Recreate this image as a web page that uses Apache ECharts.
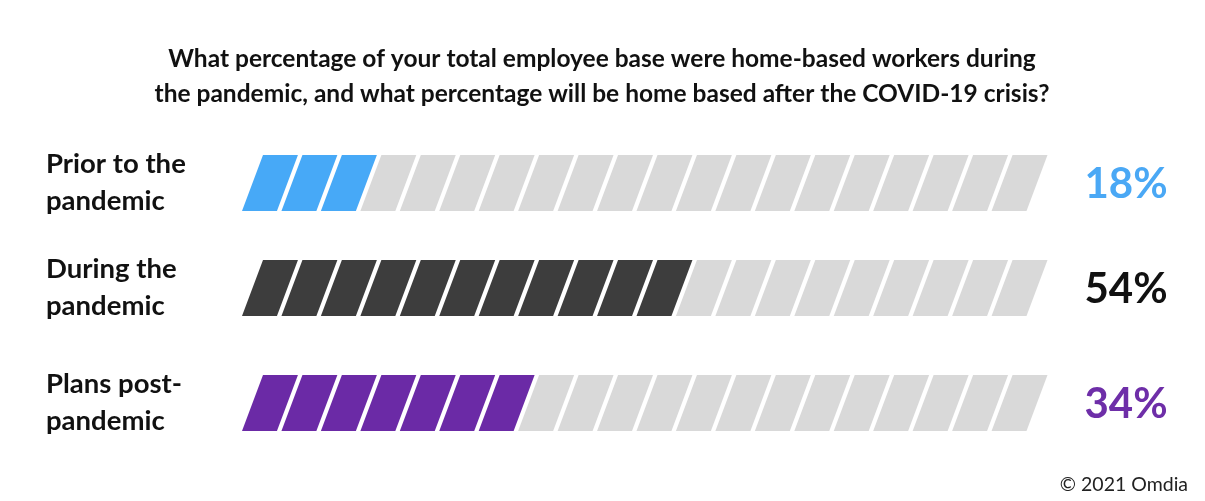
<!DOCTYPE html>
<html>
<head>
<meta charset="utf-8">
<script src="https://cdn.jsdelivr.net/npm/echarts@6/dist/echarts.min.js"></script>
<style>
html,body{margin:0;padding:0;background:#fff;}
#chart{width:1205px;height:501px;}
</style>
</head>
<body>
<div id="chart"></div>
<script>
// ---- data ----
const titleText = 'What percentage of your total employee base were home-based workers during\nthe pandemic, and what percentage will be home based after the COVID-19 crisis?';
const categories = ['Prior to the\npandemic', 'During the\npandemic', 'Plans post-\npandemic'];
const values = [18, 54, 34];              // percentage labels
const filledSegments = [3, 11, 7];        // coloured segments counted in the picture
const totalSegments = 20;                 // segments per row
const fillColors = ['#47A9F7', '#3D3D3D', '#6B2AA6'];
const labelColors = ['#4AA8F5', '#111111', '#6E2EA8'];
const emptyColor = '#D9D9D9';
const footer = '\u00A9 2021 Omdia';

// ---- layout ----
const FONT = 'Lato';
const rowTops = [155, 260, 375];
const rowH = 56;
const gridLeft = 242;
const gridWidth = 789;
const slant = 21;
const gap = 4.5;

const grids = [], xAxes = [], yAxes = [], series = [];
rowTops.forEach(function (top, r) {
  grids.push({ left: gridLeft, top: top, width: gridWidth, height: rowH });
  xAxes.push({ gridIndex: r, type: 'value', min: 0, max: totalSegments, show: false });
  yAxes.push({
    gridIndex: r, type: 'category', data: [categories[r]],
    axisLine: { show: false }, axisTick: { show: false }, splitLine: { show: false },
    axisLabel: {
      align: 'left', margin: gridLeft - 46, fontFamily: FONT, fontWeight: 'bold',
      fontSize: 27.5, lineHeight: 37, color: '#111', padding: [6, 0, 0, 0]
    }
  });
  const segData = [];
  for (let i = 0; i < totalSegments; i++) {
    segData.push([i, categories[r], i < filledSegments[r] ? 1 : 0]);
  }
  series.push({
    type: 'custom', xAxisIndex: r, yAxisIndex: r, data: segData,
    renderItem: function (params, api) {
      const i = api.value(0);
      const p0 = api.coord([i, 0]);
      const p1 = api.coord([i + 1, 0]);
      const h = api.size([0, 1])[1];
      const yb = p0[1] + h / 2, yt = p0[1] - h / 2;
      const x0 = p0[0], x1 = p1[0] - gap;
      return {
        type: 'polygon',
        shape: { points: [[x0, yb], [x1, yb], [x1 + slant, yt], [x0 + slant, yt]] },
        style: { fill: api.value(2) ? fillColors[r] : emptyColor }
      };
    },
    silent: true
  });
  series.push({
    type: 'custom', xAxisIndex: r, yAxisIndex: r, data: [[totalSegments, categories[r], values[r]]],
    renderItem: function (params, api) {
      const p = api.coord([totalSegments, 0]);
      return {
        type: 'text',
        style: {
          x: 1126, y: p[1] + 1, text: api.value(2) + '%', fill: labelColors[r],
          font: 'bold 42px ' + FONT, align: 'center', verticalAlign: 'middle'
        }
      };
    },
    silent: true
  });
});

const chart = echarts.init(document.getElementById('chart'), null, { renderer: 'canvas' });
chart.setOption({
  backgroundColor: '#fff',
  animation: false,
  title: {
    text: titleText, left: 597, textAlign: 'center', top: 37,
    textStyle: { fontFamily: FONT, fontWeight: 'bold', fontSize: 24.5, lineHeight: 35, color: '#111' }
  },
  graphic: [{
    type: 'text', right: 17, top: 475,
    style: { text: footer, font: '19.5px ' + FONT, fill: '#222' }
  }],
  grid: grids, xAxis: xAxes, yAxis: yAxes, series: series
});
</script>
</body>
</html>
